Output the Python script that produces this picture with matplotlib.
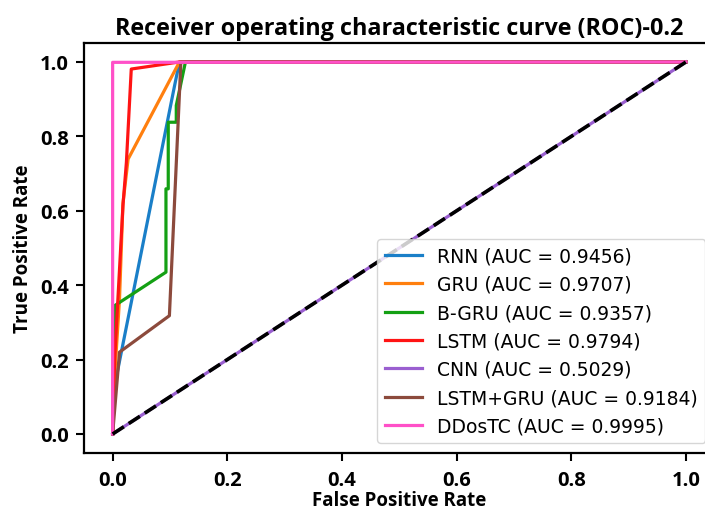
import numpy as np
import matplotlib
matplotlib.use('Agg')
import matplotlib.pyplot as plt
from matplotlib.font_manager import FontProperties

# ROC points (fpr, tpr) per model
rnn_fpr = [0.0, 0.0035, 0.108, 0.1165, 1.0]
rnn_tpr = [0.0, 0.13, 0.936, 1.0, 1.0]

gru_fpr = [0.0, 0.004, 0.012, 0.018, 0.027, 0.1165, 1.0]
gru_tpr = [0.0, 0.166, 0.363, 0.62, 0.739, 1.0, 1.0]

bgru_fpr = [0.0, 0.0035, 0.093, 0.093, 0.097, 0.097, 0.111, 0.111, 0.127, 1.0]
bgru_tpr = [0.0, 0.345, 0.435, 0.659, 0.659, 0.838, 0.838, 0.883, 1.0, 1.0]

lstm_fpr = [0.0, 0.0035, 0.018, 0.024, 0.0325, 0.1165, 1.0]
lstm_tpr = [0.0, 0.2, 0.614, 0.73, 0.981, 1.0, 1.0]

cnn_fpr = [0.0, 1.0]
cnn_tpr = [0.0, 1.0]

lg_fpr = [0.0, 0.012, 0.099, 0.119, 1.0]
lg_tpr = [0.0, 0.22, 0.318, 1.0, 1.0]

ddos_fpr = [0.0, 0.0, 1.0]
ddos_tpr = [0.0, 0.999, 1.0]

names = ['RNN', 'GRU', 'B-GRU', 'LSTM', 'CNN', 'LSTM+GRU', 'DDosTC']
aucs = [0.9456, 0.9707, 0.9357, 0.9794, 0.5029, 0.9184, 0.9995]
curves = [(rnn_fpr, rnn_tpr), (gru_fpr, gru_tpr), (bgru_fpr, bgru_tpr),
          (lstm_fpr, lstm_tpr), (cnn_fpr, cnn_tpr), (lg_fpr, lg_tpr),
          (ddos_fpr, ddos_tpr)]
colors = ['#1a7fc8', '#ff7f0e', '#14a014', '#ff1414', '#9a5fd0', '#8c4a3c', '#ff50c8']

fig = plt.figure(figsize=(7.05, 5.1), dpi=100)
ax = fig.add_axes([0.1191, 0.1106, 0.8946, 0.8024])

for (fpr, tpr), name, auc, c in zip(curves, names, aucs, colors):
    ax.plot(fpr, tpr, color=c, lw=2.3, label=f'{name} (AUC = {auc:.4f})')
ax.plot([0, 1], [0, 1], 'k--', lw=2.6)

ax.set_xlim(-0.05, 1.05)
ax.set_ylim(-0.05, 1.05)
ticks = [0.0, 0.2, 0.4, 0.6, 0.8, 1.0]
ax.set_xticks(ticks)
ax.set_yticks(ticks)
ax.set_xticklabels([f'{t:.1f}' for t in ticks])
ax.set_yticklabels([f'{t:.1f}' for t in ticks])

bold = dict(family='Open Sans', weight='bold')
for lab in ax.get_xticklabels() + ax.get_yticklabels():
    lab.set_fontproperties(FontProperties(size=14.5, **bold))
ax.tick_params(width=1.5, length=5.5)
ax.tick_params(axis='x', pad=7)
ax.tick_params(axis='y', pad=5.5)
for s in ax.spines.values():
    s.set_linewidth(1.6)

ax.set_xlabel('False Positive Rate', fontsize=13.5, labelpad=0, **bold)
ax.set_ylabel('True Positive Rate', fontsize=13.5, labelpad=5, **bold)
ax.set_title('Receiver operating characteristic curve (ROC)-0.2',
             fontsize=16.8, pad=7, **bold)

ax.legend(loc='lower right', fontsize=13.5)
plt.savefig('out.png', dpi=100)
